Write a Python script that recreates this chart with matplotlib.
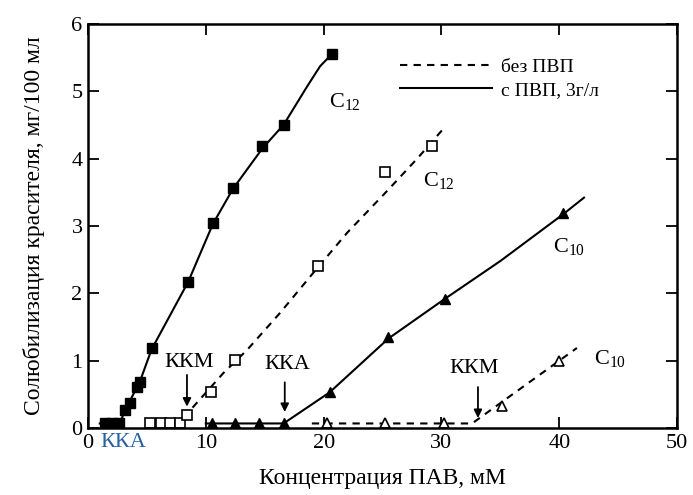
import matplotlib
matplotlib.use("Agg")
import matplotlib.pyplot as plt
from matplotlib.transforms import blended_transform_factory

plt.rcParams["font.family"] = ["Liberation Serif", "DejaVu Serif"]
plt.rcParams["mathtext.fontset"] = "custom"
plt.rcParams["mathtext.rm"] = "Liberation Serif"

# C12 with PVP (filled squares)
c12_pvp_x = [1.4, 2.0, 2.6, 3.1, 3.6, 4.2, 4.4, 5.4, 8.5, 10.6, 12.3, 14.8, 16.6, 20.7]
c12_pvp_y = [0.07, 0.07, 0.07, 0.27, 0.37, 0.61, 0.69, 1.19, 2.17, 3.05, 3.56, 4.18, 4.50, 5.55]
c12_pvp_line_x = [1.0, 2.7, 3.1, 4.4, 5.4, 8.5, 10.6, 12.3, 14.8, 16.6, 18.6, 19.7, 20.7]
c12_pvp_line_y = [0.07, 0.07, 0.25, 0.69, 1.17, 2.17, 3.03, 3.55, 4.15, 4.50, 5.07, 5.37, 5.55]

# C12 without PVP (open squares)
c12_x = [5.3, 6.2, 7.0, 7.8, 8.4, 10.4, 12.5, 19.5, 25.2, 29.2]
c12_y = [0.07, 0.07, 0.07, 0.07, 0.19, 0.53, 1.01, 2.40, 3.80, 4.18]
c12_line_x = [5.0, 8.0, 8.9, 11.5, 13.5, 16.3, 19.1, 22.0, 25.5, 28.0, 30.1]
c12_line_y = [0.07, 0.07, 0.31, 0.82, 1.16, 1.71, 2.30, 2.90, 3.54, 4.01, 4.43]

# C10 with PVP (filled triangles)
c10_pvp_x = [10.5, 12.5, 14.5, 16.6, 20.5, 25.5, 30.3, 40.3]
c10_pvp_y = [0.07, 0.07, 0.07, 0.07, 0.53, 1.36, 1.92, 3.19]
c10_pvp_line_x = [10.0, 16.6, 20.5, 25.5, 30.3, 35.0, 40.3, 42.1]
c10_pvp_line_y = [0.07, 0.07, 0.53, 1.33, 1.92, 2.48, 3.17, 3.42]

# C10 without PVP (open triangles)
c10_x = [20.3, 25.2, 30.2, 35.1, 40.0]
c10_y = [0.07, 0.07, 0.07, 0.33, 0.99]
c10_line_x = [19.0, 32.6, 41.5]
c10_line_y = [0.07, 0.07, 1.19]

legend_labels = ["без ПВП", "с ПВП, 3г/л"]

fig = plt.figure(figsize=(6.93, 4.95), dpi=100)
ax = fig.add_axes([0.127, 0.135, 0.85, 0.817])

dash = (0, (3.5, 3))
lw = 1.5
ax.plot(c12_line_x, c12_line_y, color="k", lw=lw, linestyle=dash)
ax.plot(c10_line_x, c10_line_y, color="k", lw=lw, linestyle=dash)
ax.plot(c12_pvp_line_x, c12_pvp_line_y, color="k", lw=lw)
ax.plot(c10_pvp_line_x, c10_pvp_line_y, color="k", lw=lw)

ax.plot(c12_pvp_x, c12_pvp_y, "s", color="k", ms=6.5, ls="none")
ax.plot(c12_x, c12_y, "s", mfc="white", mec="k", mew=1.2, ms=6.5, ls="none")
ax.plot(c10_pvp_x, c10_pvp_y, "^", color="k", ms=7.5, ls="none")
ax.plot(c10_x, c10_y, "^", mfc="white", mec="k", mew=1.2, ms=7, ls="none")

# legend
h1, = ax.plot([], [], color="k", lw=lw, linestyle=dash)
h2, = ax.plot([], [], color="k", lw=lw)
ax.legend([h1, h2], legend_labels, loc="upper left",
          bbox_to_anchor=(0.53, 0.915), frameon=False, fontsize=14,
          handlelength=4.7, handletextpad=0.5, labelspacing=0.3,
          borderpad=0, borderaxespad=0)

# curve labels
lab = dict(fontsize=16, ha="center", va="center")
ax.text(21.8, 4.85, r"$\mathregular{C_{12}}$", **lab)
ax.text(29.8, 3.68, r"$\mathregular{C_{12}}$", **lab)
ax.text(40.8, 2.70, r"$\mathregular{C_{10}}$", **lab)
ax.text(44.3, 1.03, r"$\mathregular{C_{10}}$", **lab)

# KKM / KKA markers
arr = dict(arrowstyle="-|>", lw=1.3, color="k", mutation_scale=12,
           shrinkA=0, shrinkB=0)
ax.annotate("", xy=(8.4, 0.32), xytext=(8.4, 0.79), arrowprops=arr)
ax.text(8.6, 0.97, "ККМ", fontsize=16, ha="center", va="center")
ax.annotate("", xy=(16.7, 0.24), xytext=(16.7, 0.68), arrowprops=arr)
ax.text(16.9, 0.95, "ККА", fontsize=16, ha="center", va="center")
ax.annotate("", xy=(33.1, 0.15), xytext=(33.1, 0.61), arrowprops=arr)
ax.text(32.8, 0.89, "ККМ", fontsize=16, ha="center", va="center")

trans = blended_transform_factory(ax.transData, ax.transAxes)
ax.text(3.0, -0.012, "ККА", transform=trans, fontsize=16, color="#2560a8",
        ha="center", va="top")

ax.set_xlim(0, 50)
ax.set_ylim(0, 6)
ax.set_xticks([0, 10, 20, 30, 40, 50])
ax.set_yticks([0, 1, 2, 3, 4, 5, 6])
ax.tick_params(direction="in", length=8, width=1.3, labelsize=16, pad=4,
               top=True, right=True)
for s in ax.spines.values():
    s.set_linewidth(1.8)

ax.set_xlabel("Концентрация ПАВ, мМ", fontsize=17, labelpad=11)
ax.set_ylabel("Солюбилизация красителя, мг/100 мл", fontsize=17, labelpad=19)

fig.savefig("out.png", dpi=100)
